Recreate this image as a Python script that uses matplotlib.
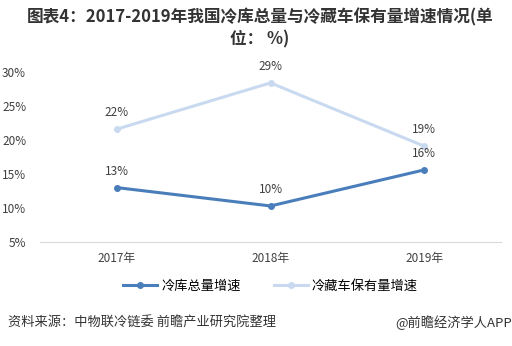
import matplotlib
matplotlib.use('Agg')
import matplotlib.pyplot as plt

plt.rcParams['font.family'] = ['Noto Sans CJK SC', 'DejaVu Sans']

years = ['2017年', '2018年', '2019年']
cold_storage = [13.0, 10.3, 15.6]
cold_truck = [21.6, 28.4, 19.1]
cold_storage_labels = ['13%', '10%', '16%']
cold_truck_labels = ['22%', '29%', '19%']
yticks = [5, 10, 15, 20, 25, 30]

dark = '#4a7ebb'
light = '#c9daf0'

fig = plt.figure(figsize=(5.12, 3.46), dpi=100)
ax = fig.add_axes([40 / 512, 104 / 346, 461 / 512, 170 / 346])

x = range(len(years))
ax.plot(x, cold_storage, color=dark, lw=2.2, marker='o', ms=4, label='冷库总量增速')
ax.plot(x, cold_truck, color=light, lw=2.2, marker='o', ms=4, label='冷藏车保有量增速')

for i, (v, t) in enumerate(zip(cold_storage, cold_storage_labels)):
    ax.annotate(t, (i, v), xytext=(0, 7), textcoords='offset points',
                ha='center', va='bottom', fontsize=8.5, color='#404040')
for i, (v, t) in enumerate(zip(cold_truck, cold_truck_labels)):
    ax.annotate(t, (i, v), xytext=(0, 7), textcoords='offset points',
                ha='center', va='bottom', fontsize=8.5, color='#404040')

ax.set_xlim(-0.5, 2.5)
ax.set_ylim(5, 30)
ax.set_xticks(list(x))
ax.set_xticklabels(years)
ax.set_yticks(yticks)
ax.set_yticklabels([f'{t}%' for t in yticks])
ax.tick_params(length=0, labelsize=8.5, colors='#404040')
ax.tick_params(axis='x', pad=7)
ax.tick_params(axis='y', pad=10)
for s in ['top', 'right', 'left']:
    ax.spines[s].set_visible(False)
ax.spines['bottom'].set_color('#d9d9d9')

ax.legend(loc='upper center', bbox_to_anchor=(0.5, -0.15), ncol=2, frameon=False,
          fontsize=9.5, handlelength=2.6, columnspacing=2.5, handletextpad=0.3)

# 제목은 왼쪽 기준으로 위치 지정
fig.text(27 / 512, 1 - 17 / 346, '图表4：2017-2019年我国冷库总量与冷藏车保有量增速情况(单',
         ha='left', va='center', fontsize=12, fontweight='bold', color='#333333')
fig.text(230 / 512, 1 - 39 / 346, '位： %)',
         ha='left', va='center', fontsize=12, fontweight='bold', color='#333333')
fig.text(8 / 512, 23 / 346, '资料来源：中物联冷链委 前瞻产业研究院整理', ha='left', va='center',
         fontsize=9.5, color='#333333')
fig.text(1.0, 23 / 346, '@前瞻经济学人APP', ha='right', va='center',
         fontsize=9.5, color='#333333')

fig.savefig('out.png', dpi=100)
